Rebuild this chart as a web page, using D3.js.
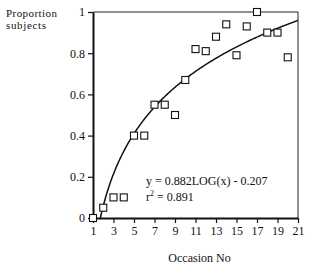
<!DOCTYPE html>
<html lang="en">
<head>
<meta charset="utf-8" />
<title>Proportion subjects by occasion</title>
<style>
    body { margin: 0; background: #fff; }
    text { font-family: "Liberation Serif", "DejaVu Serif", serif; fill: #111; }
    .axis text { font-size: 12px; }
    .axis path, .axis line { stroke: #111; }
</style>
</head>
<body>
<div id="graph"></div>
<script src="https://d3js.org/d3.v7.min.js"></script>
<script>
    // occasion number and proportion of subjects
    var occasions = [1, 2, 3, 4, 5, 6, 7, 8, 9, 10, 11, 12, 13, 14, 15, 16, 17, 18, 19, 20];
    var proportions = [0, 0.05, 0.1, 0.1, 0.4, 0.4, 0.55, 0.55, 0.5, 0.67, 0.82, 0.81, 0.88, 0.94, 0.79, 0.93, 1.0, 0.9, 0.9, 0.78];
    var xTicks = [1, 3, 5, 7, 9, 11, 13, 15, 17, 19, 21];
    var yTicks = [0, 0.2, 0.4, 0.6, 0.8, 1];
    var fitSlope = 0.882, fitIntercept = -0.207;
    var equationLines = ["y = 0.882LOG(x) - 0.207", "r2 = 0.891"];

    var margin = { top: 12, right: 29, bottom: 49, left: 93 },
        width = 327 - margin.left - margin.right,
        height = 267 - margin.top - margin.bottom;

    var x = d3.scaleLinear().domain([1, 21]).range([0, width]);
    var y = d3.scaleLinear().domain([0, 1]).range([height, 0]);

    var svg = d3.select("#graph").append("svg")
        .attr("width", 327)
        .attr("height", 267);

    var g = svg.append("g")
        .attr("transform", "translate(" + margin.left + "," + margin.top + ")");

    // top and right frame (thin)
    g.append("path")
        .attr("d", "M0,0H" + width + "V" + height)
        .attr("fill", "none")
        .attr("stroke", "#222")
        .attr("stroke-width", 1);

    var xAxis = g.append("g")
        .attr("class", "axis")
        .attr("transform", "translate(0," + height + ")")
        .call(d3.axisBottom(x).tickValues(xTicks).tickSize(5).tickPadding(3).tickSizeOuter(0));
    xAxis.select(".domain").attr("stroke-width", 2);

    var yAxis = g.append("g")
        .attr("class", "axis")
        .call(d3.axisLeft(y).tickValues(yTicks).tickSize(5).tickPadding(3).tickSizeOuter(0)
            .tickFormat(function (d) { return d; }));
    yAxis.select(".domain").attr("stroke-width", 2);
    yAxis.selectAll(".tick line").attr("stroke-width", 1.2);
    xAxis.selectAll(".tick line").attr("stroke-width", 1.2);

    // fitted log curve
    var x0 = Math.pow(10, -fitIntercept / fitSlope);
    var curve = d3.range(0, 201).map(function (i) {
        var xv = x0 + (21 - x0) * i / 200;
        return [xv, fitSlope * Math.log10(xv) + fitIntercept];
    });
    g.append("path")
        .attr("d", d3.line().x(function (d) { return x(d[0]); }).y(function (d) { return y(d[1]); })(curve))
        .attr("fill", "none")
        .attr("stroke", "#111")
        .attr("stroke-width", 1.5);

    // square markers
    var s = 7;
    g.selectAll("rect.pt")
        .data(occasions)
        .enter().append("rect")
        .attr("class", "pt")
        .attr("x", function (d) { return x(d) - s / 2; })
        .attr("y", function (d, i) { return y(proportions[i]) - s / 2; })
        .attr("width", s)
        .attr("height", s)
        .attr("fill", "#fff")
        .attr("stroke", "#111")
        .attr("stroke-width", 1.1);

    // equation
    var eq = g.append("g").attr("transform", "translate(53,0)");
    eq.append("text").attr("y", 173).attr("font-size", 12).text(equationLines[0]);
    var r2 = eq.append("text").attr("y", 189).attr("font-size", 12);
    r2.append("tspan").text("r");
    r2.append("tspan").attr("font-size", 8).attr("dy", -5).text("2");
    r2.append("tspan").attr("dy", 5).text(" = 0.891");

    // axis titles
    svg.append("text").attr("x", 6).attr("y", 17).attr("font-size", 11)
        .attr("textLength", 51).attr("lengthAdjust", "spacing").text("Proportion");
    svg.append("text").attr("x", 6).attr("y", 29).attr("font-size", 11)
        .attr("textLength", 40).attr("lengthAdjust", "spacing").text("subjects");
    svg.append("text")
        .attr("x", margin.left + width / 2 + 4)
        .attr("y", 262)
        .attr("text-anchor", "middle")
        .attr("font-size", 12)
        .text("Occasion No");
</script>
</body>
</html>
